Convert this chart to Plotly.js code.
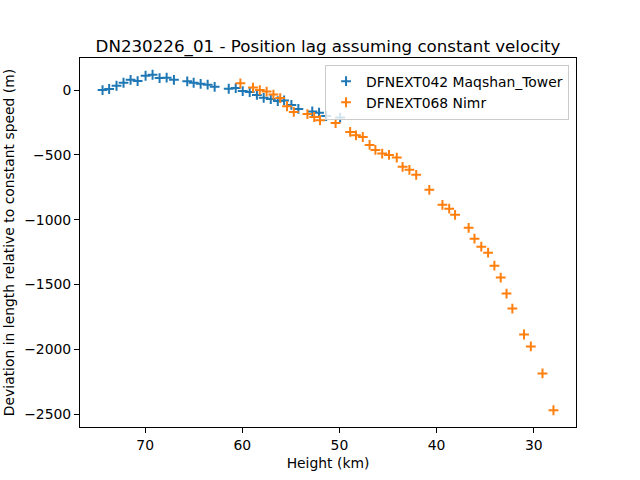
<!DOCTYPE html>
<html>
<head>
<meta charset="utf-8">
<script src="https://cdn.plot.ly/plotly-3.0.1.min.js"></script>
<style>html,body{margin:0;padding:0;background:#fff;}#chart{width:640px;height:480px;}</style>
</head>
<body>
<div id="chart"></div>
<script>
// Station DFNEXT042 Maqshan_Tower
const heightMaqshan = [74.39, 73.71, 72.95, 72.23, 71.5, 70.78, 69.96, 69.24, 68.52, 67.79, 67.04,
  65.67, 65.01, 64.29, 63.57, 62.85, 61.4, 60.68, 59.96, 59.24, 58.5, 57.8, 57.07, 56.35, 55.7,
  54.95, 54.23, 52.8, 52.1, 51.37, 49.93];
const devMaqshan = [0, 8, 33, 56, 79, 69, 110, 118, 92, 95, 79,
  67, 56, 48, 41, 25, 10, 15, -8, -15, -38, -60, -70, -85, -80,
  -115, -146, -165, -175, -200, -212];

// Station DFNEXT068 Nimr
const heightNimr = [60.2, 58.9, 58.2, 57.5, 56.8, 56.1, 55.4, 54.7, 53.3, 52.6, 52.0, 50.4,
  48.9, 48.3, 47.6, 46.9, 46.3, 45.6, 44.9, 44.1, 43.5, 42.8, 42.1, 40.75, 39.4, 38.7, 38.1,
  36.7, 36.1, 35.4, 34.7, 34.05, 33.4, 32.8, 32.2, 31.0, 30.3, 29.1, 27.97];
const devNimr = [52, 19, 0, -12, -35, -62, -125, -169, -185, -208, -233, -254,
  -323, -349, -362, -423, -462, -490, -500, -521, -592, -615, -654, -769, -885, -915, -962,
  -1062, -1146, -1208, -1254, -1354, -1446, -1569, -1685, -1885, -1977, -2185, -2469];

const names = ['DFNEXT042 Maqshan_Tower', 'DFNEXT068 Nimr'];
const colors = ['#1f77b4', '#ff7f0e'];

const font = 'DejaVu Sans, sans-serif';

function trace(x, y, i) {
  return {
    x: x, y: y, name: names[i], type: 'scatter', mode: 'markers',
    marker: {symbol: 'cross-thin', size: 7, color: colors[i], line: {color: colors[i], width: 2}}
  };
}

const data = [trace(heightMaqshan, devMaqshan, 0), trace(heightNimr, devNimr, 1)];

const axisCommon = {
  showgrid: false, zeroline: false, showline: true, mirror: true,
  linecolor: '#000', linewidth: 1, ticks: 'outside', ticklen: 5, tickwidth: 1, tickcolor: '#000',
  tickfont: {family: font, size: 13.9, color: '#000'}, automargin: false
};

const layout = {
  width: 640, height: 480,
  margin: {l: 80, r: 64, t: 57.6, b: 52.8},
  paper_bgcolor: '#fff', plot_bgcolor: '#fff',
  showlegend: true,
  title: {
    text: 'DN230226_01 - Position lag assuming constant velocity',
    font: {family: font, size: 16.7, color: '#000'},
    x: 0.5, xref: 'paper', xanchor: 'center',
    y: 1, yref: 'paper', yanchor: 'bottom', pad: {b: 6}
  },
  xaxis: Object.assign({}, axisCommon, {
    range: [76.71, 25.65],
    tickvals: [70, 60, 50, 40, 30],
    title: {text: 'Height (km)', font: {family: font, size: 13.9, color: '#000'}, standoff: 6}
  }),
  yaxis: Object.assign({}, axisCommon, {
    range: [-2598, 247],
    tickvals: [0, -500, -1000, -1500, -2000, -2500],
    title: {text: 'Deviation in length relative to constant speed (m)', font: {family: font, size: 13.9, color: '#000'}, standoff: 6}
  }),
  legend: {
    x: 0.986, y: 0.982, xanchor: 'right', yanchor: 'top',
    bgcolor: 'rgba(255,255,255,0.8)', bordercolor: '#cccccc', borderwidth: 1,
    tracegroupgap: 0,
    font: {family: font, size: 13.9, color: '#000'}
  }
};

Plotly.newPlot('chart', data, layout, {displayModeBar: false, staticPlot: true});
</script>
</body>
</html>
